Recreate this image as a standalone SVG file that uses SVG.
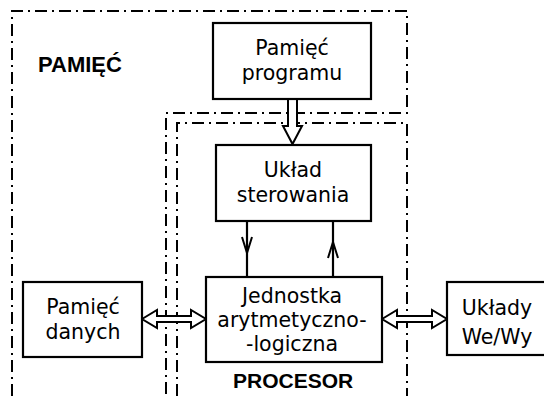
<svg xmlns="http://www.w3.org/2000/svg" width="544" height="396" viewBox="0 0 544 396">
<defs>
<style>
.bg{fill:#fff}
.region{fill:none;stroke:#000;stroke-width:2;stroke-dasharray:12 5 2 5}
.box{fill:#fff;stroke:#000;stroke-width:2.2}
.t{font-family:"DejaVu Sans",sans-serif;font-size:20.5px;fill:#000;text-anchor:middle}
.b{font-family:"Liberation Sans",Arial,sans-serif;font-weight:bold;fill:#000}
.hollow{fill:#fff;stroke:#000;stroke-width:2;stroke-linejoin:miter}
.line{fill:none;stroke:#000;stroke-width:2.2}
.head{fill:none;stroke:#000;stroke-width:2}
</style>
</defs>
<rect class="bg" x="0" y="0" width="544" height="396"/>
<g id="region-pamiec">
<polyline class="region" points="12,396 12,11 407,11 407,113 166,113 166,396"/>
<text class="b" x="38" y="72" font-size="22">PAMIĘĆ</text>
</g>
<g id="region-procesor">
<polyline class="region" points="177,396 177,123 407,123 407,396"/>
<text class="b" x="233" y="388" font-size="21">PROCESOR</text>
</g>
<g id="connectors">
<polygon class="hollow" points="288,99 297,99 297,126 302,126 292.5,144 283,126 288,126"/>
<line class="line" x1="247" y1="221" x2="247" y2="277"/>
<polyline class="head" points="242,237 247,253 252,237"/>
<line class="line" x1="333" y1="221" x2="333" y2="277"/>
<polyline class="head" points="328,258 333,242 338,258"/>
<polygon class="hollow" points="142,319 157,310 157,316 191,316 191,310 206,319 191,328 191,322 157,322 157,328"/>
<polygon class="hollow" points="382,319 397,310 397,316 432,316 432,310 447,319 432,328 432,322 397,322 397,328"/>
</g>
<g id="pamiec-programu">
<rect class="box" x="213" y="23" width="158" height="76"/>
<text class="t" x="292" y="55">Pamięć</text>
<text class="t" x="292" y="80">programu</text>
</g>
<g id="uklad-sterowania">
<rect class="box" x="216" y="145" width="155" height="76"/>
<text class="t" x="293" y="177">Układ</text>
<text class="t" x="293" y="202">sterowania</text>
</g>
<g id="jednostka">
<rect class="box" x="206" y="277" width="176" height="85"/>
<text class="t" x="292" y="303">Jednostka</text>
<text class="t" x="292" y="327">arytmetyczno-</text>
<text class="t" x="292" y="351">-logiczna</text>
</g>
<g id="pamiec-danych">
<rect class="box" x="23" y="282" width="119" height="75"/>
<text class="t" x="83" y="314">Pamięć</text>
<text class="t" x="83" y="339">danych</text>
</g>
<g id="uklady-we-wy">
<rect class="box" x="447" y="282" width="110" height="73"/>
<text class="t" x="497" y="315">Układy</text>
<text class="t" x="497" y="344">We/Wy</text>
</g>
</svg>
